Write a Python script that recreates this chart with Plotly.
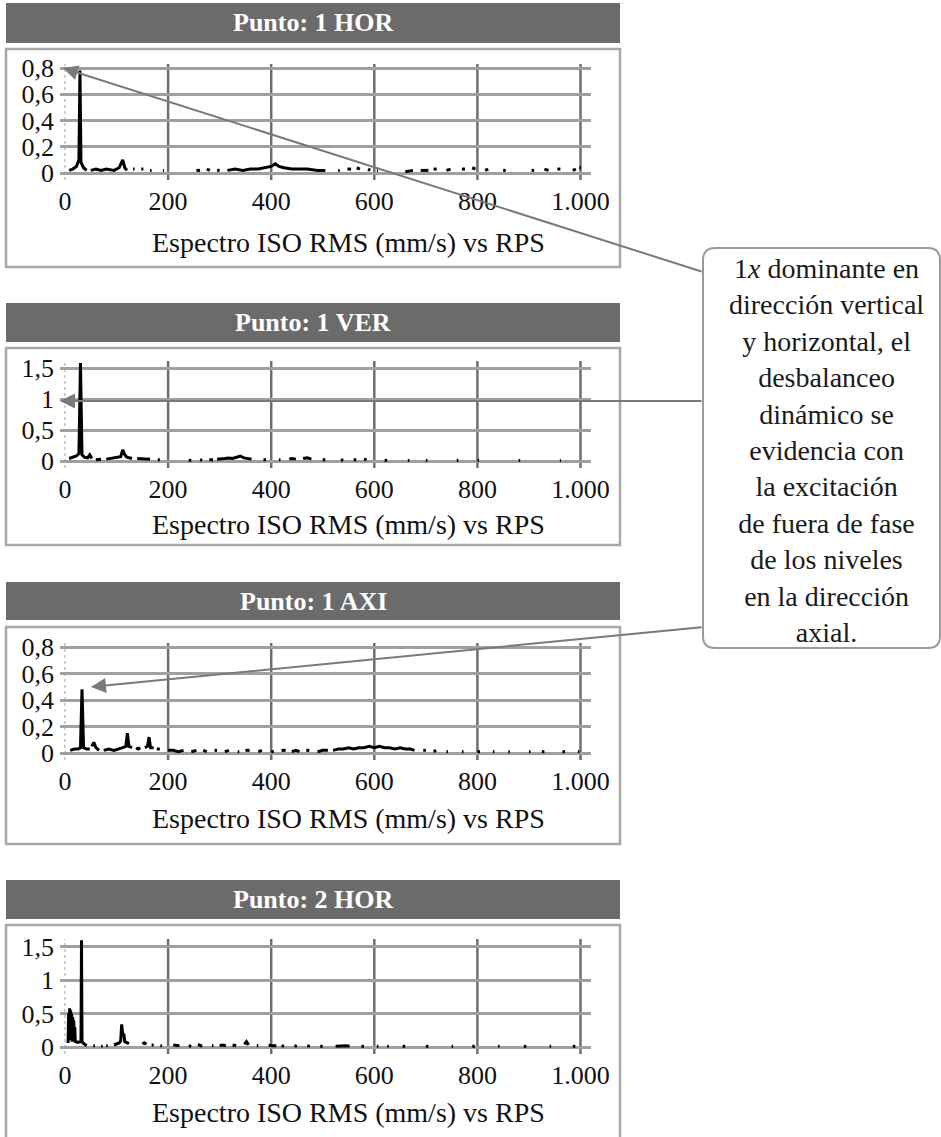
import plotly.graph_objects as go

# ---------------- data (frequency in RPS, amplitude in mm/s) ----------------
TITLES = ["Punto: 1 HOR", "Punto: 1 VER", "Punto: 1 AXI", "Punto: 2 HOR"]
XTICKS = [0, 200, 400, 600, 800, 1000]
XTICK_TEXT = ["0", "200", "400", "600", "800", "1.000"]
YTICKS_A = [0, 0.2, 0.4, 0.6, 0.8]
YTICK_TEXT_A = ["0", "0,2", "0,4", "0,6", "0,8"]
YTICKS_B = [0, 0.5, 1, 1.5]
YTICK_TEXT_B = ["0", "0,5", "1", "1,5"]
AXIS_TITLE = "Espectro ISO RMS (mm/s) vs RPS"

N = None
HOR1_F = [8, 15, 22, 27, 29, 31, 36, 42, N, 50, 60, 70, 80, 95, 105, 112, 116, 120, N,
          132, 135, N, 148, 152, N, 165, 168, N, 190, 192, N,
          255, 262, N, 275, 281, N, 295, 300, N, 315, 330, 345, 360, 375, 390, 400, 408, 415, 425, 440, 455, 470, 490, 505, N,
          530, 533, N, 548, 555, N, 566, 572, N, 588, 592, N, 605, 607, N, 660, 675, N, 690, 705, N, 715, 721, N,
          740, 748, N, 770, 776, N, 790, 796, N, 815, 821, N, 850, 855, N, 905, 910, N, 930, 938, N, 955, 961, N, 985, 991, N, 998, 1001]
HOR1_A = [0.02, 0.03, 0.05, 0.1, 0.78, 0.08, 0.04, 0.02, N, 0.02, 0.03, 0.02, 0.03, 0.02, 0.04, 0.1, 0.04, 0.02, N,
          0.03, 0.03, N, 0.03, 0.03, N, 0.02, 0.02, N, 0.02, 0.02, N,
          0.02, 0.02, N, 0.03, 0.02, N, 0.02, 0.02, N, 0.02, 0.03, 0.02, 0.03, 0.03, 0.04, 0.05, 0.07, 0.05, 0.04, 0.03, 0.03, 0.03, 0.02, 0.02, N,
          0.02, 0.02, N, 0.03, 0.03, N, 0.04, 0.03, N, 0.03, 0.02, N, 0.02, 0.02, N, 0.01, 0.02, N, 0.02, 0.02, N, 0.03, 0.03, N,
          0.02, 0.03, N, 0.03, 0.03, N, 0.04, 0.03, N, 0.02, 0.03, N, 0.02, 0.02, N, 0.02, 0.02, N, 0.03, 0.02, N, 0.03, 0.03, N, 0.02, 0.03, N, 0.04, 0.04]

VER1_F = [8, 15, 22, 27, 30, 33, 38, 44, 48, 52, N, 60, 70, N, 80, 90, 100, 108, 112, 116, 120, 125, 130, N,
          140, 150, 158, 165, N, 180, 184, N, 240, 245, N, 262, 266, N, 280, 287, N,
          295, 302, 310, 318, 325, 333, 340, 347, 355, 362, N, 385, 390, N, 415, 418, N, 435, 440, 448, N,
          462, 470, 478, N, 500, 505, N, 535, 540, N, 560, 565, N, 580, 585, N, 620, 625, N, 665, 668, N,
          700, 703, N, 760, 763, N, 800, 803, N, 880, 883, N, 960, 962]
VER1_A = [0.04, 0.06, 0.08, 0.12, 1.58, 0.1, 0.06, 0.05, 0.1, 0.04, N, 0.02, 0.03, N, 0.03, 0.04, 0.05, 0.07, 0.18, 0.1, 0.06, 0.05, 0.04, N,
          0.04, 0.04, 0.03, 0.03, N, 0.02, 0.02, N, 0.01, 0.01, N, 0.02, 0.01, N, 0.02, 0.02, N,
          0.03, 0.03, 0.04, 0.05, 0.04, 0.06, 0.08, 0.05, 0.04, 0.03, N, 0.02, 0.02, N, 0.02, 0.02, N, 0.03, 0.04, 0.03, N,
          0.04, 0.05, 0.03, N, 0.02, 0.02, N, 0.02, 0.01, N, 0.02, 0.02, N, 0.03, 0.02, N, 0.01, 0.01, N, 0.01, 0.01, N,
          0.01, 0.01, N, 0.01, 0.01, N, 0.01, 0.01, N, 0.01, 0.01, N, 0.01, 0.01]

AXI1_F = [10, 18, 25, 30, 33, 36, 42, 48, N, 52, 56, 60, 66, N, 75, 85, 95, 105, 112, 118, 121, 124, 130, N,
          138, 142, 146, N, 155, 160, 163, 166, 172, N, 178, 184, N,
          200, 210, 220, 230, N, 245, 255, N, 268, 275, N, 290, 295, N, 310, 318, N, 335, 338, N, 350, 358, N,
          375, 382, N, 400, 405, N, 420, 428, N, 440, 448, 455, N, 468, 474, N, 490, 500, 510, N,
          520, 530, 540, 550, 560, 570, 580, 590, 600, 610, 620, 630, 640, 650, 660, 670, 678, N,
          695, 700, N, 715, 720, N, 740, 743, N, 770, 773, N, 800, 805, N, 830, 833, N, 860, 863, N,
          900, 903, N, 925, 930, N, 965, 970, N, 995, 998]
AXI1_A = [0.02, 0.03, 0.03, 0.04, 0.48, 0.04, 0.03, 0.03, N, 0.05, 0.08, 0.04, 0.02, N, 0.02, 0.03, 0.02, 0.03, 0.04, 0.05, 0.15, 0.05, 0.04, N,
          0.04, 0.03, 0.04, N, 0.04, 0.05, 0.12, 0.04, 0.04, N, 0.03, 0.03, N,
          0.02, 0.02, 0.01, 0.02, N, 0.01, 0.02, N, 0.02, 0.01, N, 0.02, 0.02, N, 0.01, 0.02, N, 0.01, 0.01, N, 0.02, 0.02, N,
          0.01, 0.02, N, 0.01, 0.01, N, 0.02, 0.02, N, 0.01, 0.02, 0.01, N, 0.02, 0.02, N, 0.01, 0.02, 0.02, N,
          0.02, 0.03, 0.03, 0.04, 0.03, 0.04, 0.04, 0.05, 0.04, 0.05, 0.04, 0.04, 0.03, 0.04, 0.03, 0.03, 0.02, N,
          0.02, 0.02, N, 0.01, 0.02, N, 0.01, 0.01, N, 0.01, 0.01, N, 0.01, 0.01, N, 0.01, 0.01, N, 0.01, 0.01, N,
          0.01, 0.01, N, 0.01, 0.01, N, 0.01, 0.01, N, 0.01, 0.01]

HOR2_F = [6, 7, 8, 9, 10, 11, 12, 13, 14, 15, 16, 17, 18, 19, 20, 22, 25, 28, 31, 32, 33, 35, 38, 42, N,
          55, 58, N, 70, 73, N, 80, 83, N,
          95, 100, 105, 108, 110, 112, 114, 116, 120, 124, N, 150, 154, 158, N, 168, 172, N, 185, 188, N,
          210, 215, 222, N, 240, 245, N, 258, 262, 266, N, 285, 288, N, 300, 305, 312, N, 325, 332, N,
          348, 352, 356, N, 372, 375, N, 395, 402, 410, N, 420, 425, N, 445, 450, N, 470, 475, N, 495, 500, N,
          525, 535, 545, 552, N, 575, 580, N, 605, 608, N, 625, 628, N, 655, 660, N, 700, 705, N, 750, 753, N,
          790, 795, N, 840, 843, N, 890, 895, N, 940, 943, N, 985, 990]
HOR2_A = [0.06, 0.5, 0.1, 0.58, 0.12, 0.55, 0.1, 0.5, 0.08, 0.45, 0.08, 0.4, 0.08, 0.3, 0.07, 0.08, 0.07, 0.08, 0.08, 1.6, 0.08, 0.06, 0.04, 0.02, N,
          0.02, 0.02, N, 0.01, 0.01, N, 0.02, 0.02, N,
          0.03, 0.05, 0.06, 0.09, 0.34, 0.18, 0.2, 0.08, 0.06, 0.05, N, 0.05, 0.06, 0.04, N, 0.03, 0.03, N, 0.02, 0.02, N,
          0.03, 0.03, 0.02, N, 0.02, 0.01, N, 0.04, 0.02, 0.01, N, 0.02, 0.02, N, 0.02, 0.03, 0.02, N, 0.03, 0.02, N,
          0.04, 0.08, 0.03, N, 0.02, 0.02, N, 0.03, 0.02, 0.02, N, 0.02, 0.01, N, 0.02, 0.01, N, 0.02, 0.01, N, 0.01, 0.01, N,
          0.01, 0.02, 0.02, 0.01, N, 0.01, 0.01, N, 0.01, 0.01, N, 0.01, 0.01, N, 0.01, 0.01, N, 0.01, 0.01, N, 0.01, 0.01, N,
          0.01, 0.01, N, 0.01, 0.01, N, 0.01, 0.01, N, 0.01, 0.01, N, 0.01, 0.01]

SERIES_F = [HOR1_F, VER1_F, AXI1_F, HOR2_F]
SERIES_A = [HOR1_A, VER1_A, AXI1_A, HOR2_A]

NOTE = ("1<i>x</i> dominante en<br>dirección vertical<br>y horizontal, el<br>desbalanceo<br>"
        "dinámico se<br>evidencia con<br>la excitación<br>de fuera de fase<br>de los niveles<br>"
        "en la dirección<br>axial.")

# ---------------- layout geometry (pixels) ----------------
W, H = 941, 1137
FONT = "Liberation Serif"


def fx(p):
    return p / W


def fy(p):
    return 1 - p / H


X0PX, XPPU = 65, 0.5155
PLOT_L, PLOT_R = 60, 591
PANELS = [
    dict(header=(3, 43), box=(49, 267), y0=173, ppu=131.25, top=64, bot=180, ticks="A", title_y=242),
    dict(header=(303, 342), box=(348, 545), y0=461, ppu=62.0, top=361, bot=468, ticks="B", title_y=524),
    dict(header=(582, 620), box=(627, 844), y0=753, ppu=132.5, top=643, bot=760, ticks="A", title_y=818),
    dict(header=(880, 919), box=(925, 1150), y0=1047, ppu=66.7, top=939, bot=1054, ticks="B", title_y=1112),
]

fig = go.Figure()
shapes = []
annotations = []
layout = {}

for p in PANELS:
    shapes.append(dict(type="rect", xref="paper", yref="paper", x0=fx(6), x1=fx(620),
                       y0=fy(p["box"][1]), y1=fy(p["box"][0]), line=dict(color="#a8a8a8", width=2.5),
                       fillcolor="white", layer="below"))
    shapes.append(dict(type="rect", xref="paper", yref="paper", x0=fx(6), x1=fx(620),
                       y0=fy(p["header"][1]), y1=fy(p["header"][0]), line=dict(width=0),
                       fillcolor="#6b6b6b", layer="below"))

for i, p in enumerate(PANELS):
    k = "" if i == 0 else str(i + 1)
    xr = [(PLOT_L - X0PX) / XPPU, (PLOT_R - X0PX) / XPPU]
    yr = [(p["y0"] - p["bot"]) / p["ppu"], (p["y0"] - p["top"]) / p["ppu"]]
    yt, ytt = (YTICKS_A, YTICK_TEXT_A) if p["ticks"] == "A" else (YTICKS_B, YTICK_TEXT_B)
    layout["xaxis" + k] = dict(domain=[fx(PLOT_L), fx(PLOT_R)], range=xr, anchor="y" + k,
                               tickvals=XTICKS, ticktext=XTICK_TEXT, showgrid=False, zeroline=False,
                               showline=False, ticks="", ticklabelstandoff=3, automargin=False,
                               tickfont=dict(family=FONT, size=26, color="#111"), fixedrange=True)
    layout["yaxis" + k] = dict(domain=[fy(p["bot"]), fy(p["top"])], range=yr, anchor="x" + k,
                               tickvals=yt, ticktext=ytt, showgrid=True, gridcolor="#a0a0a0", gridwidth=2.5,
                               zeroline=False, showline=False, ticks="", ticklabelstandoff=5, automargin=False,
                               tickfont=dict(family=FONT, size=26, color="#111"), fixedrange=True)
    shapes.append(dict(type="line", xref="x" + k, yref="y" + k + " domain", x0=0, x1=0, y0=0, y1=1,
                       line=dict(color="#cfcfcf", width=2, dash="dot"), layer="below"))
    for v in XTICKS[1:]:
        shapes.append(dict(type="line", xref="x" + k, yref="y" + k + " domain", x0=v, x1=v, y0=0, y1=1,
                           line=dict(color="#6e6e6e", width=2.5), layer="below"))
    fig.add_trace(go.Scatter(x=SERIES_F[i], y=SERIES_A[i], mode="lines", xaxis="x" + k, yaxis="y" + k,
                             line=dict(color="#000", width=3), connectgaps=False, showlegend=False,
                             hoverinfo="skip"))
    annotations.append(dict(text=TITLES[i], xref="paper", yref="paper", x=fx(313),
                            y=fy((p["header"][0] + p["header"][1]) / 2), showarrow=False,
                            font=dict(family=FONT, size=26, color="white", weight="bold"),
                            xanchor="center", yanchor="middle"))
    annotations.append(dict(text=AXIS_TITLE, xref="paper", yref="paper", x=fx(348), y=fy(p["title_y"]),
                            showarrow=False, font=dict(family=FONT, size=28, color="#111"),
                            xanchor="center", yanchor="middle"))

bx0, bx1, by0, by1, r = 703, 940, 248, 648, 12
path = (f"M {fx(bx0 + r)},{fy(by0)} L {fx(bx1 - r)},{fy(by0)} Q {fx(bx1)},{fy(by0)} {fx(bx1)},{fy(by0 + r)} "
        f"L {fx(bx1)},{fy(by1 - r)} Q {fx(bx1)},{fy(by1)} {fx(bx1 - r)},{fy(by1)} "
        f"L {fx(bx0 + r)},{fy(by1)} Q {fx(bx0)},{fy(by1)} {fx(bx0)},{fy(by1 - r)} "
        f"L {fx(bx0)},{fy(by0 + r)} Q {fx(bx0)},{fy(by0)} {fx(bx0 + r)},{fy(by0)} Z")
shapes.append(dict(type="path", xref="paper", yref="paper", path=path,
                   line=dict(color="#9a9a9a", width=2), fillcolor="white", layer="above"))
annotations.append(dict(text=NOTE, xref="paper", yref="paper", x=fx(826), y=fy(450), showarrow=False,
                        align="center", xanchor="center", yanchor="middle",
                        font=dict(family=FONT, size=28, color="#1a1a1a")))

for tip, tail in [((63, 68), (703, 272)), ((60, 401), (703, 401)), ((91, 687), (703, 627))]:
    annotations.append(dict(text="", xref="paper", yref="paper", x=fx(tip[0]), y=fy(tip[1]),
                            axref="pixel", ayref="pixel", ax=tail[0] - tip[0], ay=tail[1] - tip[1],
                            showarrow=True, arrowhead=2, arrowsize=1.5, arrowwidth=2,
                            arrowcolor="#7a7a7a", standoff=0))

fig.update_layout(**layout)
fig.update_layout(template="none", width=W, height=H, margin=dict(l=0, r=0, t=0, b=0, pad=0),
                  paper_bgcolor="white", plot_bgcolor="rgba(0,0,0,0)", shapes=shapes,
                  annotations=annotations, showlegend=False)

POST = ("document.documentElement.style.margin='0';document.documentElement.style.overflow='hidden';"
        "document.body.style.margin='0';document.body.style.padding='0';document.body.style.overflow='hidden';"
        "var g=document.querySelector('.plotly-graph-div');"
        "if(g){g.style.position='absolute';g.style.left='0px';g.style.top='0px';}")
fig.write_html("out.html", config={"displayModeBar": False}, post_script=POST)
